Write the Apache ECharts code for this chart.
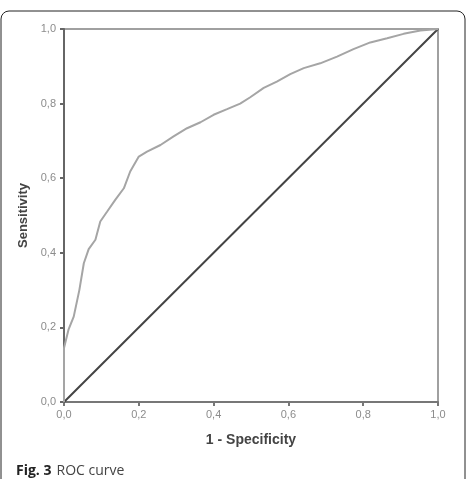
<!DOCTYPE html>
<html>
<head>
<meta charset="utf-8">
<script src="https://cdn.jsdelivr.net/npm/echarts@6/dist/echarts.min.js"></script>
<style>
  html, body { margin: 0; padding: 0; background: #fff; }
  #chart { width: 469px; height: 479px; }
</style>
</head>
<body>
<div id="chart"></div>
<script>
// ROC curve points [1 - specificity, sensitivity]
var rocX = [0, 0, 0.012, 0.026, 0.041, 0.053, 0.066, 0.084, 0.097, 0.115, 0.137, 0.16, 0.177, 0.2, 0.222, 0.258, 0.293, 0.329, 0.365, 0.40, 0.436, 0.471, 0.498, 0.534, 0.569, 0.605, 0.641, 0.685, 0.73, 0.774, 0.819, 0.864, 0.908, 0.953, 1];
var rocY = [0, 0.145, 0.194, 0.229, 0.30, 0.372, 0.41, 0.435, 0.484, 0.51, 0.542, 0.573, 0.618, 0.658, 0.671, 0.689, 0.712, 0.734, 0.75, 0.77, 0.785, 0.80, 0.817, 0.842, 0.859, 0.879, 0.895, 0.908, 0.926, 0.946, 0.964, 0.975, 0.987, 0.996, 1];
var refX = [0, 1];
var refY = [0, 1];

var rocData = rocX.map(function (x, i) { return [x, rocY[i]]; });
var refData = refX.map(function (x, i) { return [x, refY[i]]; });

function commaFmt(v) { return v.toFixed(1).replace('.', ','); }

var myChart = echarts.init(document.getElementById('chart'));
var option = {
  animation: false,
  graphic: [
    {
      type: 'rect',
      shape: { x: 1, y: 11, width: 464, height: 480, r: 8 },
      style: { fill: 'none', stroke: '#222', lineWidth: 1 },
      silent: true
    }
  ],
  title: {
    left: 11,
    top: 457,
    text: '{b|Fig. 3} {n|ROC curve}',
    textStyle: {
      fontWeight: 'normal',
      rich: {
        b: { fontFamily: 'Open Sans', fontWeight: 'bold', fontSize: 14, color: '#222' },
        n: { fontFamily: 'Open Sans', fontWeight: 'normal', fontSize: 14, color: '#444' }
      }
    }
  },
  grid: {
    left: 64,
    right: 31,
    top: 29,
    bottom: 77,
    show: true,
    borderColor: '#a0a0a0',
    borderWidth: 2
  },
  xAxis: {
    type: 'value',
    min: 0,
    max: 1,
    interval: 0.2,
    name: '1 - Specificity',
    nameLocation: 'middle',
    nameGap: 31,
    nameTextStyle: { fontFamily: 'Liberation Sans', fontWeight: 'bold', fontSize: 14, color: '#444' },
    axisLine: { show: true, lineStyle: { color: '#777', width: 2 } },
    axisTick: { show: true, length: 4, lineStyle: { color: '#777', width: 2 } },
    axisLabel: { formatter: commaFmt, color: '#8c8c8c', fontSize: 11, fontFamily: 'Liberation Sans', margin: 7 },
    splitLine: { show: false }
  },
  yAxis: {
    type: 'value',
    min: 0,
    max: 1,
    interval: 0.2,
    name: 'Sensitivity',
    nameLocation: 'middle',
    nameGap: 34,
    nameTextStyle: { fontFamily: 'Liberation Sans', fontWeight: 'bold', fontSize: 13, color: '#444' },
    axisLine: { show: true, lineStyle: { color: '#666', width: 2 } },
    axisTick: { show: true, length: 4, lineStyle: { color: '#666', width: 2 } },
    axisLabel: { formatter: commaFmt, color: '#8c8c8c', fontSize: 11, fontFamily: 'Liberation Sans', margin: 8 },
    splitLine: { show: false }
  },
  series: [
    {
      name: 'ROC',
      type: 'line',
      data: rocData,
      symbol: 'none',
      lineStyle: { color: '#a5a5a5', width: 2 },
      z: 3
    },
    {
      name: 'Reference',
      type: 'line',
      data: refData,
      symbol: 'none',
      lineStyle: { color: '#444', width: 2 },
      z: 2
    }
  ]
};
myChart.setOption(option);
</script>
</body>
</html>
